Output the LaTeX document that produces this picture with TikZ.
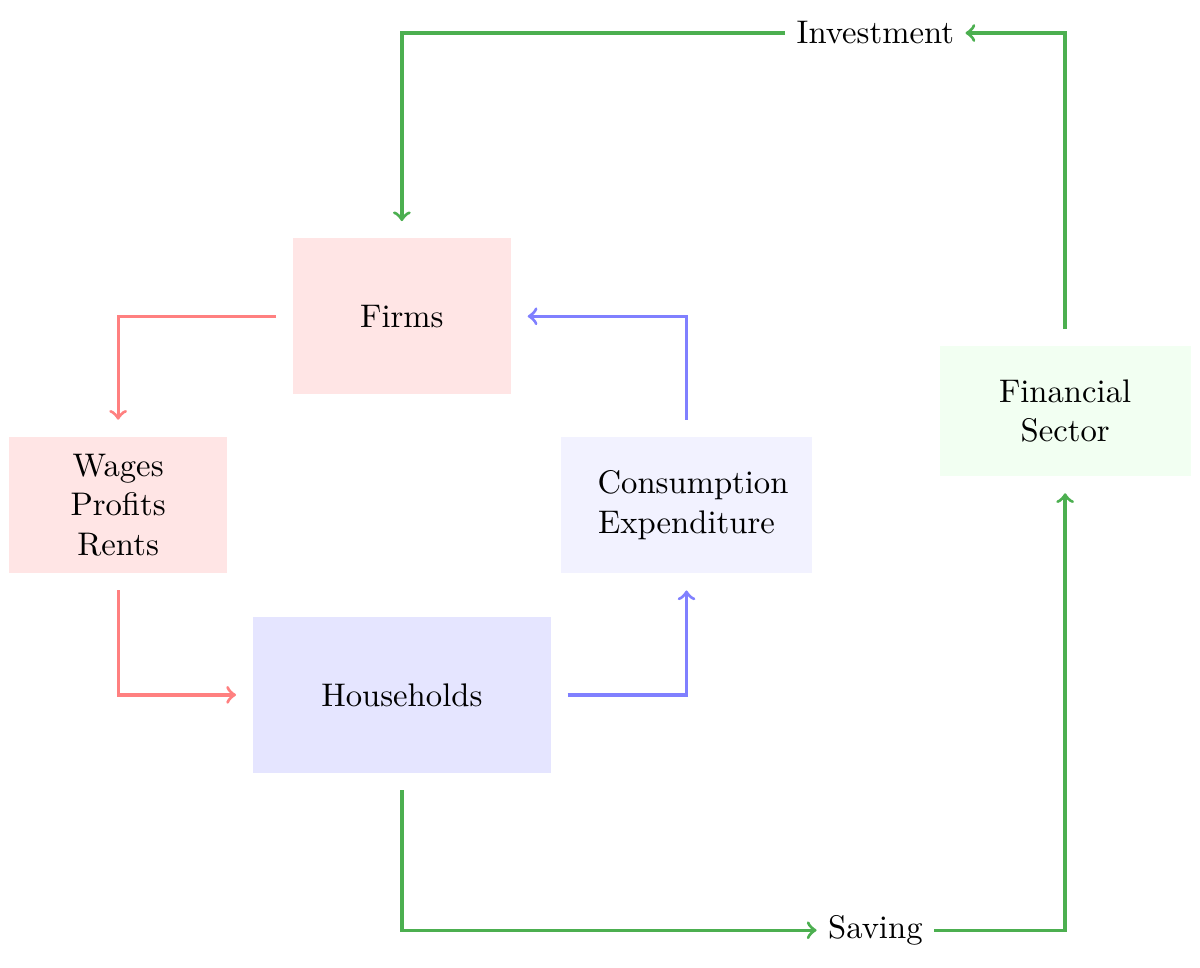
\documentclass[tikz,border=0pt]{standalone}
\usetikzlibrary{arrows}
\definecolor{flowgreen}{RGB}{76,175,80}
\begin{document}
\begin{tikzpicture}
\tikzstyle{box}=[minimum width=2.34cm, minimum height=1.68cm, align=center, inner sep=0pt, outer sep=5.2pt]
\tikzstyle{redflow}=[->, line width=1pt, red!50]
\tikzstyle{blueflow}=[->, line width=1pt, blue!50]
\tikzstyle{greenflow}=[->, line width=1pt, flowgreen]
\useasboundingbox (0,0) rectangle (12.9,-10.4);
% sectors
\node [box, fill=red!10] (firms) at (4.32,-3.40) {Firms};
\node [box, fill=red!10, minimum height=1.47cm] (income) at (1.27,-5.43) {Wages\\Profits\\Rents};
\node [box, fill=blue!10, minimum width=3.2cm] (households) at (4.32,-7.47) {Households};
\node [box, fill=blue!5, minimum width=2.69cm, minimum height=1.47cm] (consumption) at (7.38,-5.43) {\hspace{4pt}Consumption\\Expenditure};
\node [box, fill=green!5, minimum width=2.7cm, minimum height=1.4cm] (finance) at (11.45,-4.42) {Financial\\Sector};
\node (investment) at (9.41,-0.355) {Investment};
\node (saving) at (9.41,-10.0) {Saving};
% circular flow
\draw [redflow] (firms.west) -| (income.north);
\draw [redflow] (income.south) |- (households.west);
\draw [blueflow] (households.east) -| (consumption.south);
\draw [blueflow] (consumption.north) |- (firms.east);
% leakage and injection
\draw [greenflow] (households.south) |- (saving.west);
\draw [greenflow] (saving.east) -| (finance.south);
\draw [greenflow] (finance.north) |- (investment.east);
\draw [greenflow] (investment.west) -| (firms.north);
\end{tikzpicture}
\end{document}
